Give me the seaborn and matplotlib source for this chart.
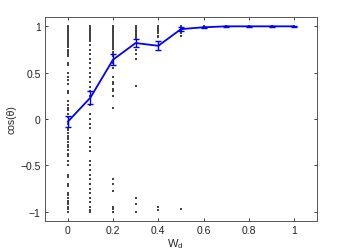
import matplotlib
matplotlib.use("Agg")
import matplotlib.pyplot as plt
import seaborn as sns
import pandas as pd
import numpy as np

# mean curve
wd = [0.0, 0.1, 0.2, 0.3, 0.4, 0.5, 0.6, 0.7, 0.8, 0.9, 1.0]
mean_cos = [-0.03, 0.23, 0.64, 0.82, 0.79, 0.97, 0.99, 1.0, 1.0, 1.0, 1.0]
err_cos = [0.06, 0.07, 0.06, 0.04, 0.05, 0.02, 0.005, 0.003, 0.003, 0.003, 0.003]

# individual samples per column
pts_00 = [1.0, 0.98, 0.96, 0.94, 0.92, 0.9, 0.88, 0.86, 0.84, 0.82, 0.8, 0.78, 0.75,
          0.72, 0.7, 0.68, 0.6, 0.58, 0.5, 0.45, 0.42, 0.38, 0.3, 0.28, 0.2, 0.15, 0.12,
          0.1, 0.05, 0.02, -0.05, -0.1, -0.12, -0.15, -0.18, -0.2, -0.22, -0.25, -0.28,
          -0.3, -0.33, -0.38, -0.4, -0.45, -0.5, -0.6, -0.62, -0.7, -0.72, -0.8, -0.82,
          -0.85, -0.88, -0.9, -0.92, -0.95, -0.97, -1.0]
pts_01 = [1.0, 0.98, 0.97, 0.95, 0.93, 0.92, 0.9, 0.88, 0.86, 0.84, 0.8, 0.75, 0.7,
          0.65, 0.6, 0.55, 0.5, 0.45, 0.4, 0.35, 0.3, 0.25, 0.15, 0.05, 0.0, -0.05,
          -0.1, -0.2, -0.25, -0.3, -0.35, -0.45, -0.5, -0.55, -0.6, -0.65, -0.7, -0.75,
          -0.8, -0.85, -0.9, -0.95, -0.98, -1.0]
pts_02 = [1.0, 0.98, 0.96, 0.94, 0.92, 0.9, 0.88, 0.86, 0.84, 0.82, 0.8, 0.78, 0.76,
          0.72, 0.7, 0.68, 0.6, 0.55, 0.45, 0.4, 0.38, 0.32, 0.3, 0.25, 0.12, -0.65,
          -0.7, -0.78, -0.95, -0.97, -1.0]
pts_03 = [1.0, 0.99, 0.98, 0.97, 0.96, 0.95, 0.94, 0.93, 0.92, 0.9, 0.88, 0.86, 0.75,
          0.7, 0.65, 0.36, -0.85, -0.92, -1.0]
pts_04 = [1.0, 0.99, 0.98, 0.97, 0.96, 0.95, 0.93, 0.9, 0.88, -0.95, -0.98]
pts_05 = [1.0, 0.98, 0.95, 0.93, 0.9, -0.97]
pts_06 = [1.0]
pts_07 = [1.0]
pts_08 = [1.0]
pts_09 = [1.0]
pts_10 = [1.0]

columns = [pts_00, pts_01, pts_02, pts_03, pts_04, pts_05, pts_06, pts_07, pts_08, pts_09, pts_10]
rows = []
for x, ys in zip(wd, columns):
    for y in ys:
        rows.append({"wd": x, "cos": y})
samples = pd.DataFrame(rows)
means = pd.DataFrame({"wd": wd, "cos": mean_cos, "err": err_cos})

sns.set_style("white")
plt.rcParams["font.family"] = ["Liberation Sans", "DejaVu Sans"]
plt.rcParams["axes.unicode_minus"] = True

fig = plt.figure(figsize=(3.49, 2.51), dpi=100)
ax = fig.add_axes([0.129, 0.1155, 0.779, 0.8125])

sns.scatterplot(data=samples, x="wd", y="cos", ax=ax, color="#444444", s=0.7,
                marker="s", linewidth=0, legend=False, zorder=2)
sns.lineplot(data=means, x="wd", y="cos", ax=ax, color="#0000ff", linewidth=1.3,
             zorder=3)
ax.errorbar(means["wd"], means["cos"], yerr=means["err"], fmt="none",
            ecolor="#0000ff", elinewidth=1.0, capsize=2.2, capthick=1.0, zorder=3)

ax.set_xlim(-0.1, 1.1)
ax.set_ylim(-1.1, 1.1)
ax.set_xticks([0, 0.2, 0.4, 0.6, 0.8, 1.0])
ax.set_xticklabels(["0", "0.2", "0.4", "0.6", "0.8", "1"])
ax.set_yticks([-1, -0.5, 0, 0.5, 1])
ax.set_yticklabels(["\u22121", "\u22120.5", "0", "0.5", "1"])
ax.tick_params(direction="in", length=2.5, width=0.6, labelsize=7.5, colors="#222222",
               top=True, right=True, bottom=True, left=True, pad=3)
for sp in ax.spines.values():
    sp.set_color("#555555")
    sp.set_linewidth(0.7)

ax.set_xlabel("W$_\\mathregular{d}$", fontsize=8)
ax.xaxis.set_label_coords(0.48, -0.075, transform=ax.transAxes)
ax.xaxis.label.set_va("top")
ax.set_ylabel("cos(\u03b8)", fontsize=7.5, labelpad=3)

fig.savefig("out.png", dpi=100)
